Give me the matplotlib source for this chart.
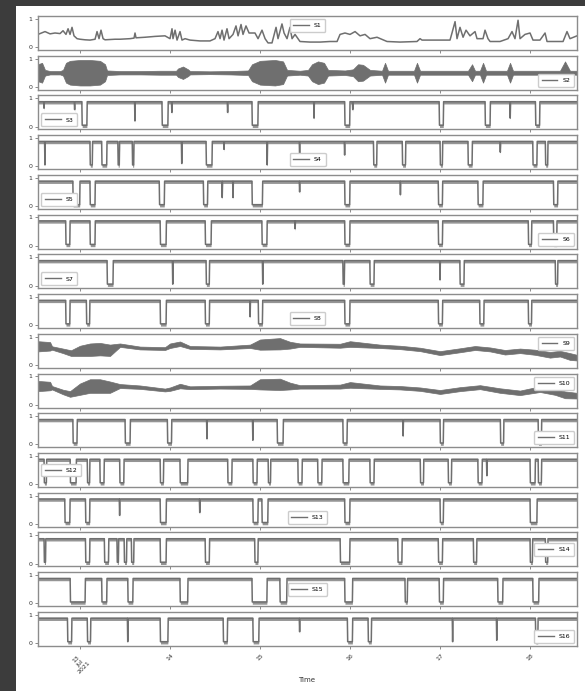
import numpy as np
import pandas as pd
import matplotlib
matplotlib.use("Agg")
import matplotlib.pyplot as plt
import matplotlib.dates as mdates
from matplotlib.patches import Rectangle
from matplotlib.lines import Line2D

# ---------------- data (time in days since 2021-07-13 00:00) ----------------
T0 = pd.Timestamp("2021-07-13")
t_range = (-0.467, 5.522)
names = [f"S{i}" for i in range(1, 17)]
tick_days = [0, 1, 2, 3, 4, 5]
tick_labels = ["13\nJul\n2021", "14", "15", "16", "17", "18"]

# S1: breakpoints
s1_t = [-0.467, -0.444, -0.389, -0.333, -0.278, -0.222, -0.189, -0.156, -0.133, -0.111, -0.089, -0.067,
        -0.033, 0.0, 0.056, 0.111, 0.167, 0.189, 0.211, 0.233, 0.256, 0.278, 0.333, 0.389, 0.444, 0.556,
        0.6, 0.611, 0.622, 0.722, 0.833, 0.944, 1.0, 1.022, 1.033, 1.056, 1.078, 1.111, 1.133, 1.167,
        1.222, 1.333, 1.444, 1.5, 1.533, 1.556, 1.578, 1.6, 1.633, 1.656, 1.7, 1.733, 1.756, 1.789,
        1.811, 1.844, 1.878, 1.911, 1.944, 1.978, 2.022, 2.056, 2.089, 2.133, 2.178, 2.2, 2.244, 2.267,
        2.3, 2.333, 2.356, 2.389, 2.444, 2.556, 2.667, 2.778, 2.856, 2.889, 2.944, 3.0, 3.056, 3.111,
        3.167, 3.222, 3.3, 3.411, 3.556, 3.744, 3.778, 3.8, 3.944, 4.111, 4.133, 4.167, 4.189, 4.222,
        4.256, 4.289, 4.333, 4.389, 4.411, 4.478, 4.5, 4.533, 4.556, 4.667, 4.756, 4.8, 4.833, 4.867,
        4.889, 4.944, 5.0, 5.033, 5.111, 5.167, 5.189, 5.278, 5.367, 5.411, 5.444, 5.522]
s1_v = [0.45, 0.48, 0.55, 0.47, 0.5, 0.48, 0.58, 0.45, 0.65, 0.45, 0.7, 0.4,
        0.3, 0.28, 0.26, 0.25, 0.28, 0.55, 0.3, 0.6, 0.3, 0.26, 0.27, 0.28, 0.28, 0.3,
        0.32, 0.5, 0.33, 0.35, 0.38, 0.4, 0.3, 0.65, 0.3, 0.6, 0.25, 0.55, 0.25, 0.3,
        0.25, 0.22, 0.22, 0.3, 0.55, 0.3, 0.6, 0.25, 0.65, 0.3, 0.45, 0.75, 0.4, 0.8,
        0.45, 0.75, 0.5, 0.5, 0.5, 0.3, 0.6, 0.3, 0.15, 0.15, 0.7, 0.3, 0.82, 0.5,
        0.3, 0.7, 0.3, 0.45, 0.2, 0.18, 0.18, 0.2, 0.2, 0.45, 0.5, 0.45, 0.55, 0.4,
        0.45, 0.3, 0.35, 0.2, 0.18, 0.2, 0.3, 0.25, 0.25, 0.25, 0.5, 0.9, 0.3, 0.7,
        0.35, 0.6, 0.4, 0.55, 0.3, 0.3, 0.6, 0.3, 0.2, 0.2, 0.3, 0.55, 0.3, 0.95,
        0.3, 0.45, 0.5, 0.25, 0.25, 0.5, 0.2, 0.2, 0.2, 0.55, 0.3, 0.4]

# S2: oscillating band (mid, half-width)
s2_t = [-0.467, -0.422, -0.389, -0.333, -0.222, -0.189, -0.156, -0.111, 0.0, 0.111, 0.222, 0.278,
        0.3, 0.444, 0.667, 0.889, 1.067, 1.089, 1.144, 1.2, 1.222, 1.444, 1.667, 1.867, 1.911, 2.0,
        2.167, 2.256, 2.3, 2.444, 2.533, 2.578, 2.644, 2.711, 2.756, 2.944, 3.033, 3.089, 3.144, 3.222,
        3.356, 3.389, 3.422, 3.711, 3.744, 3.778, 4.311, 4.356, 4.389, 4.444, 4.478, 4.511, 4.744,
        4.778, 4.811, 5.333, 5.389, 5.444, 5.522]
s2_half = [0.3, 0.35, 0.1, 0.06, 0.06, 0.1, 0.35, 0.42, 0.45, 0.45, 0.42, 0.3,
           0.08, 0.06, 0.06, 0.07, 0.07, 0.15, 0.22, 0.12, 0.06, 0.05, 0.06, 0.08, 0.3, 0.42,
           0.45, 0.4, 0.1, 0.07, 0.1, 0.3, 0.4, 0.35, 0.1, 0.08, 0.12, 0.3, 0.28, 0.1,
           0.07, 0.35, 0.07, 0.07, 0.35, 0.07, 0.07, 0.3, 0.07, 0.07, 0.35, 0.07, 0.07,
           0.35, 0.07, 0.07, 0.4, 0.07, 0.07]
s2_mid = 0.5

# S9, S10: slowly varying band
s9_t = [-0.467, -0.333, -0.311, -0.189, -0.1, 0.0, 0.111, 0.222, 0.333, 0.444, 0.667, 0.944,
        1.0, 1.111, 1.222, 1.556, 1.889, 2.0, 2.222, 2.333, 2.444, 2.889, 3.0, 3.333, 3.556,
        3.778, 4.0, 4.222, 4.389, 4.556, 4.722, 4.889, 5.056, 5.222, 5.333, 5.444, 5.522]
s9_mid = [0.66, 0.66, 0.6, 0.5, 0.42, 0.5, 0.54, 0.56, 0.52, 0.7, 0.6, 0.58,
          0.68, 0.75, 0.62, 0.6, 0.66, 0.72, 0.75, 0.7, 0.7, 0.68, 0.74, 0.66, 0.62,
          0.55, 0.42, 0.52, 0.6, 0.55, 0.45, 0.5, 0.45, 0.36, 0.4, 0.3, 0.26]
s9_half = [0.18, 0.15, 0.06, 0.08, 0.1, 0.18, 0.22, 0.22, 0.2, 0.06, 0.05, 0.05,
           0.08, 0.08, 0.05, 0.05, 0.06, 0.18, 0.2, 0.12, 0.06, 0.07, 0.1, 0.06, 0.06,
           0.06, 0.07, 0.07, 0.07, 0.07, 0.08, 0.08, 0.09, 0.1, 0.1, 0.12, 0.1]
s10_t = [-0.467, -0.333, -0.311, -0.189, -0.111, 0.0, 0.111, 0.222, 0.333, 0.444, 0.667, 0.944,
         1.0, 1.111, 1.222, 1.556, 1.889, 2.0, 2.222, 2.333, 2.444, 2.889, 3.0, 3.333, 3.556,
         3.778, 4.0, 4.222, 4.444, 4.667, 4.889, 5.111, 5.278, 5.389, 5.522]
s10_mid = [0.66, 0.66, 0.6, 0.45, 0.38, 0.55, 0.66, 0.66, 0.62, 0.66, 0.62, 0.52,
           0.55, 0.66, 0.6, 0.62, 0.62, 0.72, 0.72, 0.66, 0.63, 0.64, 0.7, 0.62, 0.6,
           0.55, 0.45, 0.55, 0.62, 0.5, 0.42, 0.55, 0.45, 0.35, 0.32]
s10_half = [0.18, 0.15, 0.06, 0.08, 0.1, 0.2, 0.24, 0.24, 0.2, 0.07, 0.06, 0.05,
            0.06, 0.08, 0.05, 0.05, 0.06, 0.18, 0.2, 0.12, 0.06, 0.07, 0.1, 0.06, 0.06,
            0.06, 0.07, 0.07, 0.07, 0.08, 0.08, 0.1, 0.1, 0.12, 0.1]

# dip-type series: (start, end) of drops to the floor, and narrow spikes (time, value)
floor_level = 0.05
top_level = 0.88
s3_dips = [(0.02, 0.08), (0.91, 0.98), (1.91, 1.98), (2.94, 3.0), (3.99, 4.04), (4.5, 4.56), (5.06, 5.11)]
s3_spikes = [(-0.4, 0.65), (-0.06, 0.6), (0.61, 0.2), (1.02, 0.5), (1.64, 0.5), (2.6, 0.3), (3.03, 0.6), (4.78, 0.3)]
s4_dips = [(0.11, 0.14), (0.24, 0.3), (0.42, 0.44), (0.58, 0.6), (1.4, 1.47), (3.26, 3.3), (3.58, 3.62),
           (4.0, 4.03), (4.31, 4.36), (5.03, 5.08), (5.17, 5.2)]
s4_spikes = [(-0.39, 0.05), (1.13, 0.1), (1.6, 0.6), (2.08, 0.05), (2.44, 0.3), (2.94, 0.4), (4.67, 0.5)]
s5_dips = [(-0.08, 0.0), (0.11, 0.17), (0.88, 0.94), (1.37, 1.42), (1.91, 2.03), (2.94, 3.0), (3.98, 4.03),
           (4.42, 4.48), (5.26, 5.31)]
s5_spikes = [(1.58, 0.3), (1.7, 0.3), (2.44, 0.5), (3.56, 0.4)]
s6_dips = [(-0.16, -0.11), (0.11, 0.17), (0.89, 0.96), (1.39, 1.46), (2.02, 2.08), (2.94, 3.0), (3.98, 4.03),
           (4.98, 5.02), (5.26, 5.3)]
s6_spikes = [(2.39, 0.6)]
s7_dips = [(0.3, 0.37), (1.4, 1.44), (2.92, 2.94), (3.22, 3.27), (4.22, 4.27), (5.28, 5.31)]
s7_spikes = [(1.03, 0.05), (2.03, 0.05), (4.0, 0.2)]
s8_dips = [(-0.16, -0.11), (0.07, 0.11), (0.89, 0.96), (1.39, 1.44), (1.98, 2.03), (2.94, 3.0), (3.98, 4.03),
           (4.44, 4.49), (4.98, 5.02)]
s8_spikes = [(1.89, 0.3)]
s11_dips = [(-0.08, -0.03), (0.5, 0.56), (0.97, 1.02), (2.19, 2.26), (2.92, 2.97), (4.0, 4.04), (4.67, 4.71),
            (5.09, 5.13)]
s11_spikes = [(1.41, 0.2), (1.92, 0.15), (3.59, 0.3)]
s12_dips = [(-0.4, -0.37), (-0.11, -0.04), (0.08, 0.11), (0.22, 0.27), (0.44, 0.49), (0.89, 0.93), (1.11, 1.2),
            (1.64, 1.69), (1.92, 1.97), (2.09, 2.12), (2.42, 2.47), (2.64, 2.69), (2.92, 2.99), (3.22, 3.27),
            (3.78, 3.82), (4.09, 4.13), (4.42, 4.47), (5.0, 5.06), (5.09, 5.13)]
s12_spikes = [(4.52, 0.3)]
s13_dips = [(-0.17, -0.11), (0.06, 0.11), (0.89, 0.96), (1.92, 1.98), (2.02, 2.09), (2.94, 3.0), (4.0, 4.04),
            (5.0, 5.08)]
s13_spikes = [(0.44, 0.3), (1.33, 0.4)]
s14_dips = [(-0.4, -0.38), (0.06, 0.11), (0.27, 0.32), (0.41, 0.43), (0.49, 0.52), (0.57, 0.6), (0.89, 0.96),
            (1.39, 1.44), (1.94, 1.98), (2.89, 3.0), (3.53, 3.58), (3.98, 4.03), (4.37, 4.41), (5.0, 5.03),
            (5.17, 5.2)]
s14_spikes = []
s15_dips = [(-0.11, 0.06), (0.24, 0.3), (0.53, 0.59), (1.11, 1.2), (1.91, 2.08), (2.22, 2.3), (2.94, 3.03),
            (3.61, 3.64), (3.99, 4.04), (4.64, 4.7), (5.03, 5.1)]
s15_spikes = []
s16_dips = [(-0.14, -0.09), (0.08, 0.12), (0.89, 0.98), (1.59, 1.64), (1.92, 1.99), (2.97, 3.03), (3.2, 3.24),
            (5.06, 5.09)]
s16_spikes = [(0.53, 0.05), (2.44, 0.4), (4.14, 0.05), (4.63, 0.1)]

legend_locs = ["upper center", "lower right", "lower left", "lower center", "lower left", "lower right",
               "lower left", "lower center", "upper right", "upper right", "lower right", "center left",
               "lower center", "center right", "center", "lower right"]

# ---------------- drawing ----------------
LINE = "#6f6f6f"
FUZZ = "#8a8a8a"


def to_dates(days):
    return T0 + pd.to_timedelta(np.asarray(days, dtype=float), unit="D")


def dip_series(dips, spikes):
    pts = [(t_range[0], top_level), (t_range[1], top_level)]
    e = 0.004
    for a, b in dips:
        pts += [(a, top_level), (a + e, floor_level), (b - e, floor_level), (b, top_level)]
    for t, v in spikes:
        pts += [(t - e, top_level), (t, v), (t + e, top_level)]
    pts.sort(key=lambda p: p[0])
    return [p[0] for p in pts], [p[1] for p in pts]


dip_data = {
    "S3": (s3_dips, s3_spikes), "S4": (s4_dips, s4_spikes), "S5": (s5_dips, s5_spikes),
    "S6": (s6_dips, s6_spikes), "S7": (s7_dips, s7_spikes), "S8": (s8_dips, s8_spikes),
    "S11": (s11_dips, s11_spikes), "S12": (s12_dips, s12_spikes), "S13": (s13_dips, s13_spikes),
    "S14": (s14_dips, s14_spikes), "S15": (s15_dips, s15_spikes), "S16": (s16_dips, s16_spikes),
}
band_data = {
    "S2": (s2_t, [s2_mid] * len(s2_t), s2_half),
    "S9": (s9_t, s9_mid, s9_half),
    "S10": (s10_t, s10_mid, s10_half),
}

W, H = 585, 691
fig = plt.figure(figsize=(W / 100, H / 100), dpi=100)
fig.patch.set_facecolor("#3c3c3c")
fig.add_artist(Rectangle((16 / W, 0), 1 - 16 / W, (H - 6) / H, transform=fig.transFigure,
                         facecolor="white", edgecolor="none", zorder=-10))

x0, x1 = mdates.date2num(to_dates(list(t_range)))
ticks = mdates.date2num(to_dates(tick_days))

for i, name in enumerate(names):
    top = 16 + i * 39.73
    ax = fig.add_axes([38 / W, 1 - (top + 34) / H, 539 / W, 34 / H])
    if name == "S1":
        ax.plot(to_dates(s1_t), s1_v, color=LINE, lw=1.1)
    elif name in band_data:
        t, mid, half = band_data[name]
        mid = np.asarray(mid, dtype=float)
        half = np.asarray(half, dtype=float)
        ax.fill_between(to_dates(t), mid - half, mid + half, color=LINE, lw=0.5, edgecolor=LINE)
    else:
        t, v = dip_series(*dip_data[name])
        v = np.asarray(v)
        d = to_dates(t)
        ax.fill_between(d, v - 0.08, v + 0.03, color=FUZZ, lw=0, alpha=0.9)
        ax.plot(d, v, color=LINE, lw=1.1)
    ax.set_xlim(x0, x1)
    ax.set_ylim(-0.1, 1.1)
    ax.set_yticks([0, 1])
    ax.set_yticklabels(["0", "1"], fontsize=4.5, color="#333333")
    ax.set_xticks(ticks)
    ax.tick_params(length=2.5, width=0.6, color="#777777", pad=1.5)
    for sp in ax.spines.values():
        sp.set_color("#8c8c8c")
        sp.set_linewidth(1.0)
    if i == len(names) - 1:
        ax.set_xticklabels(tick_labels, fontsize=4.5, rotation=45, ha="center", color="#333333")
        ax.tick_params(axis="x", pad=2)
    else:
        ax.set_xticklabels([])
    ax.legend(handles=[Line2D([], [], color=LINE, lw=1.0)], labels=[name], loc=legend_locs[i],
              fontsize=4.5, handlelength=2.5, borderpad=0.6, framealpha=1, edgecolor="#cccccc")

fig.text(307 / W, 1 - 680 / H, "Time", ha="center", va="center", fontsize=5, color="#333333")
fig.savefig("out.png", dpi=100, facecolor=fig.get_facecolor())
